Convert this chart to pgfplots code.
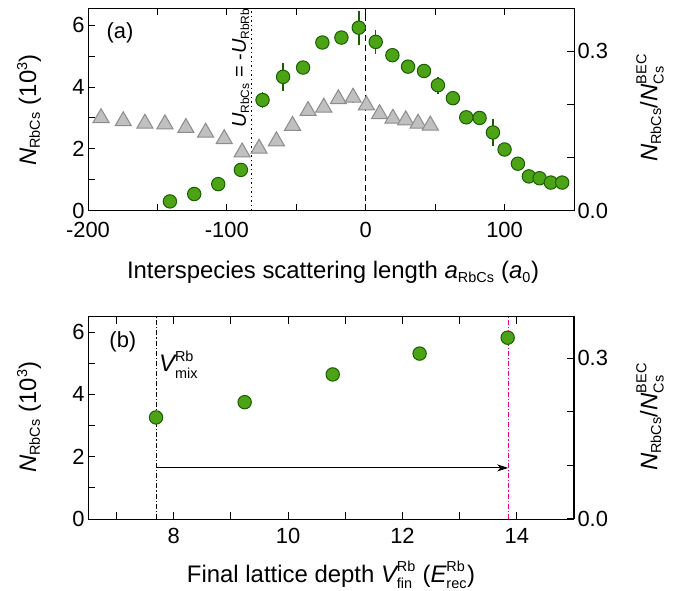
\documentclass[border=0pt]{standalone}
\usepackage{fontspec}
\setmainfont{Liberation Sans}
\usepackage{amsmath}
\usepackage{pgfplots}
\pgfplotsset{compat=1.18}
\usetikzlibrary{arrows.meta}
\DeclareMathSizes{24}{24}{14.5}{11}
\DeclareMathSizes{22}{22}{13.5}{10}
\DeclareMathSizes{20}{20}{12}{9}
\definecolor{gfill}{RGB}{76,163,22}
\definecolor{gedge}{RGB}{25,95,0}
\definecolor{tfill}{RGB}{192,192,192}
\definecolor{tedge}{RGB}{140,140,140}
\newcommand{\fs}{\fontsize{22}{26}\selectfont}
\newcommand{\fl}{\fontsize{24}{28}\selectfont}
\newcommand{\fr}{\fontsize{20}{24}\selectfont}
\pgfplotsset{
  myax/.style={scale only axis, width=486bp, clip=false,
    axis line style={line width=1bp},
    every tick/.style={line width=1bp, black},
    major tick length=7bp, minor tick length=7bp, tick align=inside,
    tick label style={font=\fs},
    /pgf/number format/assume math mode=true},
}
\pgfplotstableread{
x y e
-141 0.30 0.1
-123.5 0.54 0.1
-106.2 0.86 0.1
-89.9 1.32 0.1
-74.3 3.58 0.25
-59.5 4.33 0.45
-45.1 4.63 0.15
-31.2 5.44 0.15
-17.5 5.60 0.15
-5 5.92 0.55
7.2 5.46 0.38
19.2 5.03 0.15
30.5 4.66 0.15
42 4.52 0.15
52 4.06 0.28
62.8 3.64 0.15
72.4 3.02 0.1
82 3.00 0.1
91.6 2.53 0.45
100 1.98 0.2
109.6 1.52 0.1
117.5 1.11 0.1
125.2 1.05 0.1
133.3 0.91 0.1
141.5 0.91 0.1
}\circdata
\pgfplotstableread{
x y e
-190.6 3.00 0.12
-174.6 2.90 0.12
-159 2.82 0.12
-144.6 2.80 0.12
-129.5 2.68 0.12
-115.3 2.53 0.12
-101.9 2.32 0.12
-89 1.89 0.12
-76.8 2.01 0.12
-64.3 2.25 0.12
-52.7 2.75 0.12
-41.5 3.23 0.15
-30.2 3.34 0.15
-19.7 3.61 0.15
-9.1 3.66 0.18
0.5 3.41 0.15
10 3.13 0.15
19.6 2.98 0.15
28.8 2.93 0.15
37.7 2.82 0.15
46.5 2.76 0.15
}\tridata
\pgfplotstableread{
x y
7.69 3.26
9.24 3.75
10.78 4.64
12.30 5.31
13.84 5.82
}\depthdata
\begin{document}
\begin{tikzpicture}
\useasboundingbox (0bp,0bp) rectangle (678bp,591bp);
% ---------- top panel ----------
\begin{axis}[myax, at={(88bp,380.3bp)}, anchor=south west, height=202.5bp,
  xmin=-200, xmax=150, ymin=0, ymax=6.55,
  xtick={-200,-100,0,100}, minor xtick={-150,-50,50},
  ytick={0,2,4,6}, minor ytick={1,3,5},
  xtick pos=both, xticklabel pos=left, ytick pos=left,
  xticklabel style={yshift=-8bp}]
\addplot[black, line width=1.2bp, dash pattern=on 1.3bp off 3.2bp] coordinates {(-82,0) (-82,6.55)};
\addplot[black, line width=1.2bp, dash pattern=on 6bp off 4bp] coordinates {(0,0) (0,6.55)};
\addplot[only marks, mark=triangle*, mark size=9.3bp,
  mark options={fill=tfill, draw=tedge, line width=1bp},
  error bars/.cd, y dir=both, y explicit, error mark=none,
  error bar style={tedge, line width=1.2bp}]
  table[x=x, y=y, y error=e] {\tridata};
\addplot[only marks, mark=*, mark size=6.7bp,
  mark options={fill=gfill, draw=gedge, line width=1bp},
  error bars/.cd, y dir=both, y explicit, error mark=none,
  error bar style={gedge, line width=1.5bp}]
  table[x=x, y=y, y error=e] {\circdata};
\node[font=\fs, inner sep=0pt] at (axis cs:-177,5.74) {(a)};
\node[rotate=90, anchor=south, inner sep=2.5bp, font=\fr] at (axis cs:-82,4.61)
  {$\textit{U}_{\text{RbCs}}$ = -$\textit{U}_{\text{RbRb}}$};
\end{axis}
\begin{axis}[myax, at={(88bp,380.3bp)}, anchor=south west, height=202.5bp,
  xmin=-200, xmax=150, ymin=0, ymax=0.3808,
  axis x line=none, axis y line*=right,
  ytick={0,0.3}, minor ytick={0.1,0.2},
  yticklabel style={/pgf/number format/.cd, fixed, fixed zerofill, precision=1}]
\end{axis}
% ---------- bottom panel ----------
\begin{axis}[myax, at={(88bp,72bp)}, anchor=south west, height=202.5bp,
  xmin=6.5, xmax=15, ymin=0, ymax=6.5,
  xtick={8,10,12,14}, minor xtick={7,9,11,13},
  ytick={0,2,4,6}, minor ytick={1,3,5},
  xtick pos=both, xticklabel pos=left, ytick pos=left,
  xticklabel style={yshift=-6bp}]
\addplot[black, line width=1.1bp, dash pattern=on 5bp off 2bp on 1.2bp off 2bp] coordinates {(7.7,0) (7.7,6.5)};
\addplot[magenta, line width=1.1bp, dash pattern=on 5bp off 2bp on 1.2bp off 2bp] coordinates {(13.85,0) (13.85,6.5)};
\addplot[black, line width=1.1bp, -{Stealth[length=11bp, width=7bp, inset=3bp]}] coordinates {(7.7,1.64) (13.85,1.64)};
\addplot[only marks, mark=*, mark size=6.7bp,
  mark options={fill=gfill, draw=gedge, line width=1bp}]
  table[x=x, y=y] {\depthdata};
\node[font=\fs, inner sep=0pt] at (axis cs:7.11,5.68) {(b)};
\node[font=\fl, anchor=base west, inner sep=0pt] at (axis cs:7.74,4.72)
  {$\textit{V}^{\text{Rb}}_{\text{mix}}$};
\end{axis}
\begin{axis}[myax, at={(88bp,72bp)}, anchor=south west, height=202.5bp,
  xmin=6.5, xmax=15, ymin=0, ymax=0.3775,
  axis x line=none, axis y line*=right,
  ytick={0,0.3}, minor ytick={0.1,0.2},
  yticklabel style={/pgf/number format/.cd, fixed, fixed zerofill, precision=1}]
\end{axis}
% ---------- axis labels ----------
\node[rotate=90, font=\fl] at (29bp,481bp) {$\textit{N}_{\text{RbCs}}$ (10$^{\text{3}}$)};
\node[rotate=90, font=\fl] at (29bp,174bp) {$\textit{N}_{\text{RbCs}}$ (10$^{\text{3}}$)};
\node[rotate=90, font=\fl] at (650bp,483bp) {$\textit{N}_{\text{RbCs}}$/$\textit{N}^{\text{BEC}}_{\text{Cs}}$};
\node[rotate=90, font=\fl] at (650bp,174bp) {$\textit{N}_{\text{RbCs}}$/$\textit{N}^{\text{BEC}}_{\text{Cs}}$};
\node[font=\fl, anchor=base] at (333bp,312bp) {Interspecies scattering length $\textit{a}_{\text{RbCs}}$ ($\textit{a}_{\text{0}}$)};
\node[font=\fl, anchor=base] at (331bp,9bp) {Final lattice depth $\textit{V}^{\text{Rb}}_{\text{fin}}$ ($\textit{E}^{\text{Rb}}_{\text{rec}}$)};
\end{tikzpicture}
\end{document}
